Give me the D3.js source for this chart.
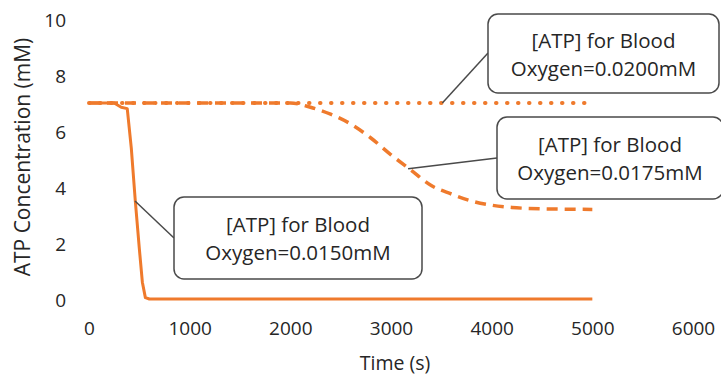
<!DOCTYPE html>
<html>
<head>
<meta charset="utf-8">
<style>
  body { margin: 0; background: #fff; }
  svg { display: block; font-family: "Open Sans", sans-serif; }
  .tick { fill: #262626; font-size: 19px; }
  .title { fill: #262626; }
  .note { fill: #262626; font-size: 20.5px; }
</style>
</head>
<body>
<svg width="721" height="377"></svg>
<script src="https://cdn.jsdelivr.net/npm/d3@7"></script>
<script>

// values
var xTicks = [0, 1000, 2000, 3000, 4000, 5000, 6000];
var yTicks = [0, 2, 4, 6, 8, 10];

var time150 = [0, 250, 320, 380, 420, 460, 500, 530, 560, 600, 1000, 2000, 3000, 4000, 5000];
var atp150  = [7, 7, 6.85, 6.8, 5.4, 3.5, 1.8, 0.6, 0.05, 0, 0, 0, 0, 0, 0];

var time175 = [0, 1000, 2000, 2200, 2400, 2600, 2800, 3000, 3200, 3400, 3600, 3800, 4000, 4200, 4500, 5000];
var atp175  = [7, 7, 7, 6.85, 6.6, 6.25, 5.75, 5.15, 4.6, 4.05, 3.75, 3.5, 3.35, 3.27, 3.22, 3.2];

var time200 = [0, 1000, 2000, 3000, 4000, 4930];
var atp200  = [7, 7, 7, 7, 7, 7];

var labels = ["Oxygen=0.0200mM", "Oxygen=0.0175mM", "Oxygen=0.0150mM"];

var svg = d3.select("svg");
var orange = "#EF7A2C";

var x = d3.scaleLinear().domain([0, 6000]).range([89, 693]);
var y = d3.scaleLinear().domain([0, 10]).range([299, 19]);

// axes without lines, labels only
var xAxis = svg.append("g")
    .attr("transform", "translate(0,321)")
    .call(d3.axisBottom(x).tickValues(xTicks).tickFormat(d3.format("d")).tickSize(0).tickPadding(0));
var yAxis = svg.append("g")
    .attr("transform", "translate(66,0)")
    .call(d3.axisLeft(y).tickValues(yTicks).tickSize(0).tickPadding(0));
svg.selectAll(".domain").remove();
svg.selectAll("g").attr("font-family", null).attr("font-size", null);
svg.selectAll(".tick text").attr("class", "tick").attr("fill", null);
xAxis.selectAll("text").attr("dy", "0.75em");
yAxis.selectAll("text").attr("dy", "0.4em");

svg.append("text")
    .attr("class", "title")
    .attr("x", 395).attr("y", 370)
    .attr("text-anchor", "middle")
    .style("font-size", "19.5px")
    .text("Time (s)");

svg.append("text")
    .attr("class", "title")
    .attr("transform", "translate(30,157) rotate(-90)")
    .attr("text-anchor", "middle")
    .style("font-size", "21px")
    .text("ATP Concentration (mM)");

var line = d3.line()
    .x(function(d) { return x(d[0]); })
    .y(function(d) { return y(d[1]); })
    .curve(d3.curveMonotoneX);

function pairs(t, v) { return t.map(function(d, i) { return [d, v[i]]; }); }

svg.append("path")
    .attr("d", line(pairs(time200, atp200)))
    .attr("fill", "none").attr("stroke", orange)
    .attr("stroke-width", 4).attr("stroke-linecap", "round")
    .attr("stroke-dasharray", "0.5 10.5");

svg.append("path")
    .attr("d", line(pairs(time175, atp175)))
    .attr("fill", "none").attr("stroke", orange)
    .attr("stroke-width", 3.5)
    .attr("stroke-dasharray", "11 7");

svg.append("path")
    .attr("d", d3.line().x(function(d) { return x(d[0]); }).y(function(d) { return y(d[1]); })(pairs(time150, atp150)))
    .attr("fill", "none").attr("stroke", orange)
    .attr("stroke-width", 3).attr("stroke-linejoin", "round");

// callouts: anchor on the data, box placed in pixels
var notes = [
  { t: 3510, v: 7.0,  box: [488, 14, 231, 79], from: [488, 53], text: labels[0] },
  { t: 3170, v: 4.65, box: [497, 117, 226, 82], from: [497, 158], text: labels[1] },
  { t: 457,  v: 3.5,  box: [174, 197, 248, 82], from: [174, 238], text: labels[2] }
];

notes.forEach(function(n) {
  svg.append("line")
      .attr("x1", n.from[0]).attr("y1", n.from[1])
      .attr("x2", x(n.t)).attr("y2", y(n.v))
      .attr("stroke", "#4a4a4a").attr("stroke-width", 1.5);
  svg.append("rect")
      .attr("x", n.box[0]).attr("y", n.box[1])
      .attr("width", n.box[2]).attr("height", n.box[3])
      .attr("rx", 10)
      .attr("fill", "#fff").attr("stroke", "#4a4a4a").attr("stroke-width", 1.5);
  var cx = n.box[0] + n.box[2] / 2;
  svg.append("text").attr("class", "note")
      .attr("x", cx).attr("y", n.box[1] + n.box[3] / 2 - 6)
      .attr("text-anchor", "middle")
      .text("[ATP] for Blood");
  svg.append("text").attr("class", "note")
      .attr("x", cx).attr("y", n.box[1] + n.box[3] / 2 + 22)
      .attr("text-anchor", "middle")
      .text(n.text);
});

</script>
</body>
</html>
